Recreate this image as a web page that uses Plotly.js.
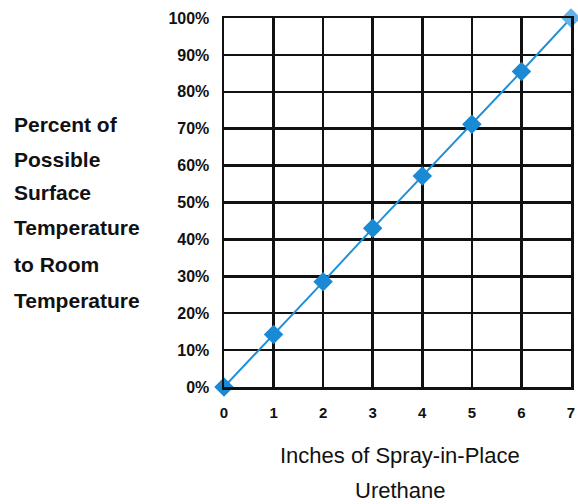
<!DOCTYPE html>
<html>
<head>
<meta charset="utf-8">
<script src="https://cdn.plot.ly/plotly-3.0.1.min.js"></script>
<style>html,body{margin:0;padding:0;background:#fff;}#chart{width:578px;height:504px;}</style>
</head>
<body>
<div id="chart"></div>
<script>
const inches = [0, 1, 2, 3, 4, 5, 6, 7];
const percentValues = [0, 14.2, 28.5, 43, 57.2, 71.2, 85.5, 100];
const xTickVals = [0, 1, 2, 3, 4, 5, 6, 7];
const yTickVals = [0, 10, 20, 30, 40, 50, 60, 70, 80, 90, 100];
const yTickText = ["0%", "10%", "20%", "30%", "40%", "50%", "60%", "70%", "80%", "90%", "100%"];
const yTitleLines = ["Percent of", "Possible", "Surface", "Temperature", "to Room", "Temperature"];
const xTitleLines = ["Inches of Spray-in-Place", "Urethane"];

const W = 578, H = 504;
const M = {l: 224, r: 7, t: 18, b: 117};
const pw = W - M.l - M.r, ph = H - M.t - M.b;
const px2x = p => (p - M.l) / pw;
const py2y = p => (H - M.b - p) / ph;

const yTitleY = [124, 159, 192, 227, 264, 300];
const xTitleY = [455, 490];

const annotations = [];
yTitleLines.forEach((t, i) => {
  annotations.push({text: '<b>' + t + '</b>', xref: 'paper', yref: 'paper', x: px2x(12), y: py2y(yTitleY[i]),
    xanchor: 'left', yanchor: 'middle', showarrow: false,
    font: {family: 'Liberation Sans, Arial, sans-serif', size: 21, color: '#111'}});
});
xTitleLines.forEach((t, i) => {
  annotations.push({text: t, xref: 'paper', yref: 'paper', x: px2x(400), y: py2y(xTitleY[i]),
    xanchor: 'center', yanchor: 'middle', showarrow: false,
    font: {family: 'Liberation Sans, Arial, sans-serif', size: 22, color: '#111'}});
});

const markerColors = inches.map((v, i) => i === inches.length - 1 ? '#63b3ea' : '#1a8ad4');

const trace = {
  x: inches, y: percentValues, type: 'scatter', mode: 'lines+markers',
  line: {color: '#2290d8', width: 2},
  marker: {symbol: 'diamond', size: 15, color: markerColors},
  cliponaxis: false, hoverinfo: 'skip'
};

const layout = {
  width: W, height: H, margin: M,
  paper_bgcolor: '#fff', plot_bgcolor: '#fff',
  showlegend: false,
  xaxis: {range: [0, 7], tickvals: xTickVals, ticks: '', showgrid: true,
    gridcolor: '#111', gridwidth: 2.5, showline: true, linecolor: '#111', linewidth: 2.5, mirror: true,
    zeroline: false, ticklabelstandoff: 10,
    tickfont: {family: 'Liberation Sans, Arial, sans-serif', size: 15, color: '#111', weight: 'bold'}},
  yaxis: {range: [0, 100], tickvals: yTickVals, ticktext: yTickText, ticks: '', showgrid: true,
    gridcolor: '#111', gridwidth: 2.5, showline: true, linecolor: '#111', linewidth: 2.5, mirror: true,
    zeroline: false, ticklabelstandoff: 9,
    tickfont: {family: 'Liberation Sans, Arial, sans-serif', size: 16, color: '#111', weight: 'bold'}},
  annotations: annotations
};

Plotly.newPlot('chart', [trace], layout, {displayModeBar: false, staticPlot: true});
</script>
</body>
</html>
